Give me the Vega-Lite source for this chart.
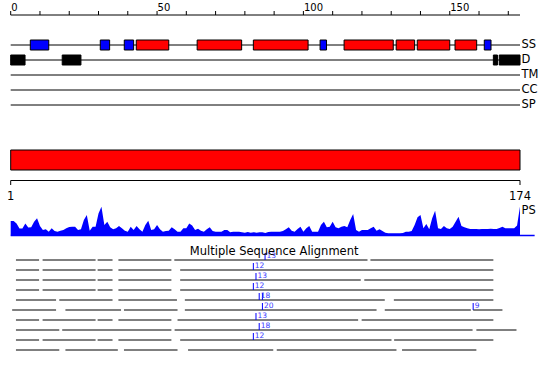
{
  "$schema": "https://vega.github.io/schema/vega-lite/v6.json",
  "width": 509.3,
  "height": 380,
  "autosize": {"type": "none"},
  "padding": {"left": 10.7, "top": 0, "right": 30, "bottom": 0},
  "config": {"view": {"stroke": null}, "font": "DejaVu Sans"},
  "datasets": {
    "ticks": [
      {"pos":0,"label":"0"},{"pos":10,"label":""},{"pos":20,"label":""},{"pos":30,"label":""},{"pos":40,"label":""},
      {"pos":50,"label":"50"},{"pos":60,"label":""},{"pos":70,"label":""},{"pos":80,"label":""},{"pos":90,"label":""},
      {"pos":100,"label":"100"},{"pos":110,"label":""},{"pos":120,"label":""},{"pos":130,"label":""},{"pos":140,"label":""},
      {"pos":150,"label":"150"},{"pos":160,"label":""},{"pos":170,"label":""}
    ],
    "ends": [{"pos": 0, "label": "1"}, {"pos": 174, "label": "174"}],
    "tracks": [{"track": "SS"}, {"track": "D"}, {"track": "TM"}, {"track": "CC"}, {"track": "SP"}],
    "features": [
      {"track": "SS", "kind": "strand", "start": 6.7, "end": 13.0},
      {"track": "SS", "kind": "strand", "start": 30.6, "end": 33.8},
      {"track": "SS", "kind": "strand", "start": 38.8, "end": 42.0},
      {"track": "SS", "kind": "helix", "start": 42.9, "end": 54.0},
      {"track": "SS", "kind": "helix", "start": 63.7, "end": 78.9},
      {"track": "SS", "kind": "helix", "start": 82.9, "end": 101.6},
      {"track": "SS", "kind": "strand", "start": 105.7, "end": 107.9},
      {"track": "SS", "kind": "helix", "start": 113.9, "end": 130.7},
      {"track": "SS", "kind": "helix", "start": 131.7, "end": 138.0},
      {"track": "SS", "kind": "helix", "start": 138.9, "end": 150.0},
      {"track": "SS", "kind": "helix", "start": 151.8, "end": 159.2},
      {"track": "SS", "kind": "strand", "start": 161.8, "end": 164.1},
      {"track": "D", "kind": "disorder", "start": 0, "end": 4.9},
      {"track": "D", "kind": "disorder", "start": 17.6, "end": 24.0},
      {"track": "D", "kind": "disorder", "start": 164.9, "end": 166.3},
      {"track": "D", "kind": "disorder", "start": 166.9, "end": 174}
    ],
    "domains": [{"track": "bar", "start": 0, "end": 174}],
    "ps": [
      {"pos":0,"score":14.5},{"pos":1,"score":14.5},{"pos":2,"score":12},{"pos":3,"score":7},{"pos":4,"score":7},
      {"pos":5,"score":12},{"pos":6,"score":8},{"pos":7,"score":8.2},{"pos":8,"score":13.8},{"pos":9,"score":17.2},
      {"pos":10,"score":9.5},{"pos":11,"score":5.5},{"pos":12,"score":6.2},{"pos":13,"score":3.8},{"pos":14,"score":7.2},
      {"pos":15,"score":4.5},{"pos":16,"score":3.8},{"pos":17,"score":4.8},{"pos":18,"score":5.5},{"pos":19,"score":7.2},
      {"pos":20,"score":8.5},{"pos":21,"score":8.8},{"pos":22,"score":8.8},{"pos":23,"score":5.5},{"pos":24,"score":6.2},
      {"pos":25,"score":15.5},{"pos":26,"score":20.5},{"pos":27,"score":4.8},{"pos":28,"score":8.8},{"pos":29,"score":8.8},
      {"pos":30,"score":22},{"pos":31,"score":28.8},{"pos":32,"score":10.5},{"pos":33,"score":13.8},{"pos":34,"score":8.2},
      {"pos":35,"score":6.2},{"pos":36,"score":7.2},{"pos":37,"score":9.5},{"pos":38,"score":7.2},{"pos":39,"score":4.8},
      {"pos":40,"score":3.8},{"pos":41,"score":8.8},{"pos":42,"score":5.5},{"pos":43,"score":9.5},{"pos":44,"score":6.2},
      {"pos":45,"score":3.8},{"pos":46,"score":10.5},{"pos":47,"score":14.8},{"pos":48,"score":5.5},{"pos":49,"score":6.2},
      {"pos":50,"score":10.5},{"pos":51,"score":6.2},{"pos":52,"score":3.8},{"pos":53,"score":4.5},{"pos":54,"score":4.8},
      {"pos":55,"score":8.2},{"pos":56,"score":6.2},{"pos":57,"score":3.8},{"pos":58,"score":3.8},{"pos":59,"score":7.2},
      {"pos":60,"score":7.2},{"pos":61,"score":12},{"pos":62,"score":10},{"pos":63,"score":5.5},{"pos":64,"score":6.8},
      {"pos":65,"score":4.8},{"pos":66,"score":3.8},{"pos":67,"score":6.2},{"pos":68,"score":8.2},{"pos":69,"score":4.5},
      {"pos":70,"score":3.8},{"pos":71,"score":3.8},{"pos":72,"score":3.8},{"pos":73,"score":5.5},{"pos":74,"score":5.5},
      {"pos":75,"score":3.2},{"pos":76,"score":3.8},{"pos":77,"score":3.8},{"pos":78,"score":3.8},{"pos":79,"score":3.2},
      {"pos":80,"score":2.8},{"pos":81,"score":3.5},{"pos":82,"score":2.8},{"pos":83,"score":3.2},{"pos":84,"score":2.8},
      {"pos":85,"score":3.2},{"pos":86,"score":3.2},{"pos":87,"score":2.5},{"pos":88,"score":3.5},{"pos":89,"score":3.8},
      {"pos":90,"score":3.8},{"pos":91,"score":3.8},{"pos":92,"score":3.8},{"pos":93,"score":4.5},{"pos":94,"score":6.2},
      {"pos":95,"score":8.2},{"pos":96,"score":4.8},{"pos":97,"score":3.8},{"pos":98,"score":6.5},{"pos":99,"score":8.8},
      {"pos":100,"score":3.8},{"pos":101,"score":7.2},{"pos":102,"score":9.5},{"pos":103,"score":3.8},{"pos":104,"score":3.8},
      {"pos":105,"score":3.8},{"pos":106,"score":10.5},{"pos":107,"score":13.8},{"pos":108,"score":8.2},{"pos":109,"score":8.8},
      {"pos":110,"score":13.8},{"pos":111,"score":8.2},{"pos":112,"score":7.2},{"pos":113,"score":8.8},{"pos":114,"score":9.5},
      {"pos":115,"score":8.2},{"pos":116,"score":15.5},{"pos":117,"score":21.5},{"pos":118,"score":5.5},{"pos":119,"score":3.8},
      {"pos":120,"score":5.5},{"pos":121,"score":5.5},{"pos":122,"score":5.5},{"pos":123,"score":7.2},{"pos":124,"score":8.8},
      {"pos":125,"score":4.8},{"pos":126,"score":6.2},{"pos":127,"score":4.5},{"pos":128,"score":2.8},{"pos":129,"score":2.2},
      {"pos":130,"score":2.2},{"pos":131,"score":2.2},{"pos":132,"score":2.2},{"pos":133,"score":2.2},{"pos":134,"score":2.5},
      {"pos":135,"score":3.8},{"pos":136,"score":3.8},{"pos":137,"score":4.5},{"pos":138,"score":10.5},{"pos":139,"score":18.2},
      {"pos":140,"score":20.5},{"pos":141,"score":7.2},{"pos":142,"score":11.5},{"pos":143,"score":6.2},{"pos":144,"score":17.2},
      {"pos":145,"score":24.8},{"pos":146,"score":7.2},{"pos":147,"score":6.5},{"pos":148,"score":9.5},{"pos":149,"score":7.2},
      {"pos":150,"score":6.5},{"pos":151,"score":8.8},{"pos":152,"score":13.8},{"pos":153,"score":18.8},{"pos":154,"score":9.5},
      {"pos":155,"score":8.2},{"pos":156,"score":7.2},{"pos":157,"score":6.5},{"pos":158,"score":6.5},{"pos":159,"score":6.5},
      {"pos":160,"score":6.2},{"pos":161,"score":6.5},{"pos":162,"score":6.5},{"pos":163,"score":6.5},{"pos":164,"score":6.8},
      {"pos":165,"score":6.5},{"pos":166,"score":6.5},{"pos":167,"score":7.5},{"pos":168,"score":8.8},{"pos":169,"score":7.2},
      {"pos":170,"score":7.2},{"pos":171,"score":7.2},{"pos":172,"score":7.2},{"pos":173,"score":10},{"pos":174,"score":29}
    ],
    "msa": [
      {"row":"r1","start":1.8,"end":9.7},{"row":"r1","start":10.9,"end":29.0},{"row":"r1","start":29.7,"end":34.8},{"row":"r1","start":36.8,"end":54.9},{"row":"r1","start":55.9,"end":121.9},{"row":"r1","start":122.9,"end":164.9},
      {"row":"r2","start":1.8,"end":9.7},{"row":"r2","start":10.9,"end":29.0},{"row":"r2","start":29.7,"end":34.8},{"row":"r2","start":36.8,"end":54.9},{"row":"r2","start":57.9,"end":164.9},
      {"row":"r3","start":1.8,"end":9.7},{"row":"r3","start":10.9,"end":29.0},{"row":"r3","start":29.7,"end":34.8},{"row":"r3","start":36.8,"end":54.9},{"row":"r3","start":57.9,"end":119.6},{"row":"r3","start":120.8,"end":164.9},
      {"row":"r4","start":1.8,"end":9.7},{"row":"r4","start":10.9,"end":29.0},{"row":"r4","start":29.7,"end":34.8},{"row":"r4","start":36.8,"end":54.9},{"row":"r4","start":57.9,"end":164.9},
      {"row":"r5","start":1.8,"end":15.5},{"row":"r5","start":16.6,"end":34.8},{"row":"r5","start":36.8,"end":56.8},{"row":"r5","start":59.5,"end":127.8},{"row":"r5","start":130.9,"end":164.9},
      {"row":"r6","start":0.5,"end":15.5},{"row":"r6","start":18.7,"end":37.7},{"row":"r6","start":38.7,"end":57.0},{"row":"r6","start":59.5,"end":125.0},{"row":"r6","start":127.8,"end":157.2},{"row":"r6","start":158.0,"end":168.0},
      {"row":"r7","start":1.8,"end":9.7},{"row":"r7","start":10.9,"end":29.0},{"row":"r7","start":29.7,"end":34.8},{"row":"r7","start":36.8,"end":54.9},{"row":"r7","start":57.0,"end":118.7},{"row":"r7","start":119.9,"end":164.9},
      {"row":"r8","start":1.8,"end":16.6},{"row":"r8","start":17.6,"end":54.9},{"row":"r8","start":56.0,"end":157.8},{"row":"r8","start":159.1,"end":172.8},
      {"row":"r9","start":1.8,"end":9.7},{"row":"r9","start":10.9,"end":29.0},{"row":"r9","start":29.7,"end":34.8},{"row":"r9","start":36.8,"end":54.9},{"row":"r9","start":57.9,"end":130.1},{"row":"r9","start":131.0,"end":164.9},
      {"row":"r10","start":1.8,"end":16.6},{"row":"r10","start":18.7,"end":36.6},{"row":"r10","start":38.7,"end":57.0},{"row":"r10","start":60.6,"end":89.7},{"row":"r10","start":90.9,"end":131.8},{"row":"r10","start":133.7,"end":159.1}
    ],
    "markers": [
      {"row":"r1","pos":86.9,"label":"13"},
      {"row":"r2","pos":82.9,"label":"12"},
      {"row":"r3","pos":83.8,"label":"13"},
      {"row":"r4","pos":82.9,"label":"12"},
      {"row":"r5","pos":84.9,"label":"18"},
      {"row":"r5","pos":86.0,"label":""},
      {"row":"r6","pos":86.0,"label":"20"},
      {"row":"r6","pos":158.0,"label":"9"},
      {"row":"r7","pos":83.8,"label":"13"},
      {"row":"r8","pos":84.9,"label":"18"},
      {"row":"r9","pos":82.9,"label":"12"}
    ]
  },
  "layer": [
    {
      "layer": [
        {
          "data": {"values": [{}]},
          "mark": {"type": "rule", "color": "black", "strokeWidth": 1},
          "encoding": {
            "x": {"datum": 0, "type": "quantitative", "scale": {"domain": [0, 174], "nice": false, "zero": false}, "axis": null},
            "x2": {"datum": 174},
            "y": {"datum": 0, "type": "quantitative", "axis": null, "scale": {"domain": [0, 1], "range": [15, 11], "nice": false, "zero": false}}
          }
        },
        {
          "data": {"name": "ticks"},
          "mark": {"type": "rule", "color": "black", "strokeWidth": 1},
          "encoding": {
            "x": {"field": "pos", "type": "quantitative", "axis": null},
            "y": {"datum": 0, "type": "quantitative", "axis": null},
            "y2": {"datum": 1}
          }
        },
        {
          "data": {"name": "ticks"},
          "mark": {"type": "text", "align": "left", "baseline": "alphabetic", "dx": 0.5, "fontSize": 10, "color": "black"},
          "encoding": {
            "x": {"field": "pos", "type": "quantitative", "axis": null},
            "y": {"datum": 1, "type": "quantitative", "axis": null},
            "text": {"field": "label"}
          }
        }
      ]
    },
    {
      "layer": [
        {
          "data": {"name": "tracks"},
          "mark": {"type": "rule", "color": "black", "strokeWidth": 1},
          "encoding": {
            "x": {"datum": 0, "type": "quantitative", "scale": {"domain": [0, 174], "nice": false, "zero": false}, "axis": null},
            "x2": {"datum": 174},
            "y": {"field": "track", "type": "nominal", "axis": null,
              "scale": {"type": "point", "domain": ["SS", "D", "TM", "CC", "SP"], "range": [45, 105], "padding": 0}}
          }
        },
        {
          "data": {"name": "tracks"},
          "mark": {"type": "text", "align": "left", "baseline": "middle", "dx": 1.5, "fontSize": 11.5, "color": "black"},
          "encoding": {
            "x": {"datum": 174, "type": "quantitative", "axis": null},
            "y": {"field": "track", "type": "nominal", "axis": null},
            "text": {"field": "track"}
          }
        },
        {
          "data": {"name": "features"},
          "mark": {"type": "bar", "height": 10, "stroke": "black", "strokeWidth": 1},
          "encoding": {
            "x": {"field": "start", "type": "quantitative", "axis": null},
            "x2": {"field": "end"},
            "y": {"field": "track", "type": "nominal", "axis": null},
            "color": {"field": "kind", "type": "nominal", "legend": null,
              "scale": {"domain": ["helix", "strand", "disorder"], "range": ["#ff0000", "#0000ff", "#000000"]}}
          }
        }
      ]
    },
    {
      "data": {"name": "domains"},
      "mark": {"type": "bar", "color": "#ff0000", "stroke": "black", "strokeWidth": 1},
      "encoding": {
        "x": {"field": "start", "type": "quantitative", "scale": {"domain": [0, 174], "nice": false, "zero": false}, "axis": null},
        "x2": {"field": "end"},
        "y": {"field": "track", "type": "nominal", "axis": null,
          "scale": {"type": "band", "domain": ["bar"], "range": [150, 170], "paddingInner": 0, "paddingOuter": 0}}
      }
    },
    {
      "layer": [
        {
          "data": {"values": [{}]},
          "mark": {"type": "rule", "color": "black", "strokeWidth": 1},
          "encoding": {
            "x": {"datum": 0, "type": "quantitative", "scale": {"domain": [0, 174], "nice": false, "zero": false}, "axis": null},
            "x2": {"datum": 174},
            "y": {"datum": 0, "type": "quantitative", "axis": null, "scale": {"domain": [0, 1], "range": [180.5, 185], "nice": false, "zero": false}}
          }
        },
        {
          "data": {"name": "ends"},
          "mark": {"type": "rule", "color": "black", "strokeWidth": 1},
          "encoding": {
            "x": {"field": "pos", "type": "quantitative", "axis": null},
            "y": {"datum": 0, "type": "quantitative", "axis": null},
            "y2": {"datum": 1}
          }
        },
        {
          "data": {"name": "ends"},
          "mark": {"type": "text", "align": "center", "baseline": "top", "dy": 5.5, "fontSize": 11.5, "color": "black"},
          "encoding": {
            "x": {"field": "pos", "type": "quantitative", "axis": null},
            "y": {"datum": 1, "type": "quantitative", "axis": null},
            "text": {"field": "label"}
          }
        }
      ]
    },
    {
      "layer": [
        {
          "data": {"name": "ps"},
          "mark": {"type": "area", "color": "#0000ff", "interpolate": "linear"},
          "encoding": {
            "x": {"field": "pos", "type": "quantitative", "scale": {"domain": [0, 174], "nice": false, "zero": false}, "axis": null},
            "y": {"field": "score", "type": "quantitative", "axis": null,
              "scale": {"domain": [0, 30], "range": [235.5, 205.5], "nice": false, "zero": true}}
          }
        },
        {
          "data": {"values": [{}]},
          "mark": {"type": "rule", "color": "#0000ff", "strokeWidth": 1.3},
          "encoding": {
            "x": {"datum": 0, "type": "quantitative", "axis": null},
            "x2": {"datum": 179},
            "y": {"datum": 0, "type": "quantitative", "axis": null}
          }
        },
        {
          "data": {"values": [{"name": "PS"}]},
          "mark": {"type": "text", "align": "left", "baseline": "middle", "dx": 1.5, "fontSize": 11.5, "color": "black"},
          "encoding": {
            "x": {"datum": 174, "type": "quantitative", "axis": null},
            "y": {"datum": 24.7, "type": "quantitative", "axis": null},
            "text": {"field": "name"}
          }
        }
      ]
    },
    {
      "layer": [
        {
          "data": {"name": "msa"},
          "mark": {"type": "rule", "color": "black", "strokeWidth": 1},
          "encoding": {
            "x": {"field": "start", "type": "quantitative", "scale": {"domain": [0, 174], "nice": false, "zero": false}, "axis": null},
            "x2": {"field": "end"},
            "y": {"field": "row", "type": "nominal", "axis": null,
              "scale": {"type": "point", "domain": ["r1","r2","r3","r4","r5","r6","r7","r8","r9","r10"], "range": [260, 350], "padding": 0}}
          }
        },
        {
          "data": {"name": "markers"},
          "mark": {"type": "tick", "orient": "vertical", "color": "#0000ff", "size": 7, "thickness": 1, "yOffset": -3.5, "opacity": 1},
          "encoding": {
            "x": {"field": "pos", "type": "quantitative", "axis": null},
            "y": {"field": "row", "type": "nominal", "axis": null}
          }
        },
        {
          "data": {"name": "markers"},
          "mark": {"type": "text", "align": "left", "baseline": "alphabetic", "dx": 1.5, "dy": -2.5, "fontSize": 7.5, "color": "#3a3aff"},
          "encoding": {
            "x": {"field": "pos", "type": "quantitative", "axis": null},
            "y": {"field": "row", "type": "nominal", "axis": null},
            "text": {"field": "label"}
          }
        },
        {
          "data": {"values": [{"title": "Multiple Sequence Alignment"}]},
          "mark": {"type": "text", "align": "center", "baseline": "alphabetic", "dy": -5, "fontSize": 11.5, "color": "black"},
          "encoding": {
            "x": {"datum": 90, "type": "quantitative", "axis": null},
            "y": {"datum": "r1", "type": "nominal", "axis": null},
            "text": {"field": "title"}
          }
        }
      ]
    }
  ],
  "resolve": {
    "scale": {"x": "independent", "y": "independent", "color": "independent"}
  }
}
